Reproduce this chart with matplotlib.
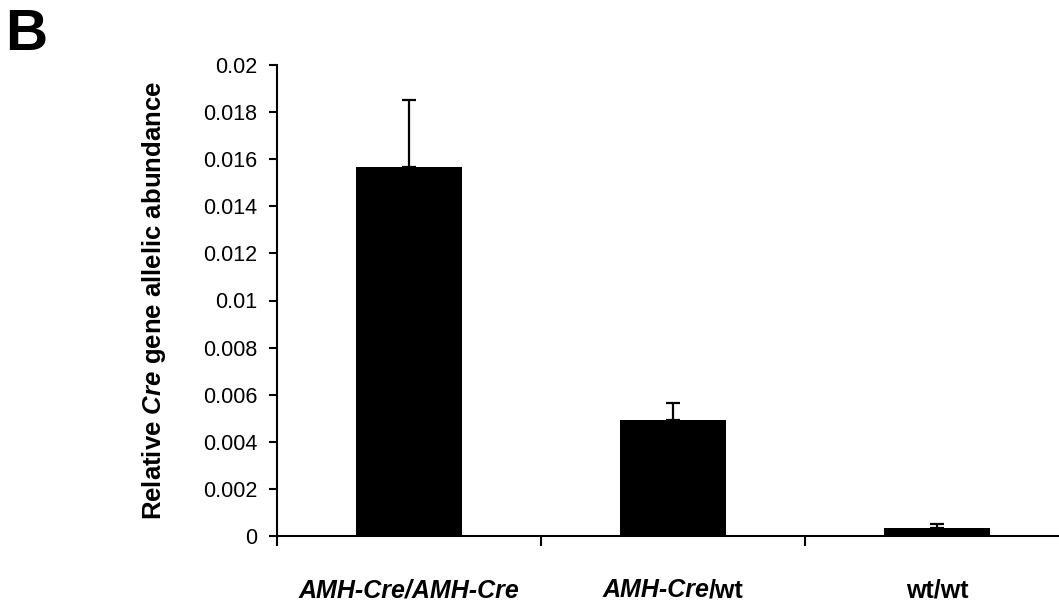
import matplotlib
matplotlib.use("Agg")
import matplotlib.pyplot as plt

plt.rcParams['font.family'] = ['Liberation Sans', 'DejaVu Sans']
plt.rcParams['mathtext.fontset'] = 'custom'
plt.rcParams['mathtext.rm'] = 'Liberation Sans:bold'
plt.rcParams['mathtext.bf'] = 'Liberation Sans:bold'
plt.rcParams['mathtext.it'] = 'Liberation Sans:bold:italic'
plt.rcParams['mathtext.bfit'] = 'Liberation Sans:bold:italic'

categories = ["AMH-Cre/AMH-Cre", "AMH-Cre/wt", "wt/wt"]
values = [0.01567, 0.00493, 0.00034]
errors = [0.00284, 0.00072, 0.00017]
yticks = [0, 0.002, 0.004, 0.006, 0.008, 0.01, 0.012, 0.014, 0.016, 0.018, 0.02]
ytick_labels = ["0", "0.002", "0.004", "0.006", "0.008", "0.01", "0.012",
                "0.014", "0.016", "0.018", "0.02"]
# label pieces: (text, italic)
label_parts = [
    [("AMH-Cre/AMH-Cre", True)],
    [("AMH-Cre", True), ("/wt", False)],
    [("wt/wt", False)],
]

W, H = 1059, 604
fig = plt.figure(figsize=(W / 100, H / 100), dpi=100)
ax = fig.add_axes([277 / W, 68 / H, (1069 - 277) / W, 471 / H])

x = list(range(len(categories)))
ax.bar(x, values, width=0.4, color='black', zorder=2)
ax.errorbar(x, values, yerr=[[0] * len(errors), errors], fmt='none',
            ecolor='black', elinewidth=1.6, capsize=5, capthick=1.6, zorder=1)

ax.set_xlim(-0.5, 2.5)
ax.set_ylim(0, 0.02)
ax.set_yticks(yticks)
ax.set_yticklabels(ytick_labels, fontsize=15.5)
ax.set_xticks([-0.5, 0.5, 1.5, 2.5])
ax.set_xticklabels([])
ax.tick_params(axis='y', direction='out', length=6, width=1.5, pad=8)
ax.tick_params(axis='x', direction='out', length=7, width=1.5)
for s in ['top', 'right']:
    ax.spines[s].set_visible(False)
for s in ['left', 'bottom']:
    ax.spines[s].set_linewidth(1.5)

ax.set_ylabel(r"Relative $\mathbfit{Cre}$ gene allelic abundance",
              fontsize=18.5, fontweight='bold', labelpad=25)

fig.text(5 / W, 1 - 50 / H, "B", fontsize=42, fontweight='bold', va='baseline', ha='left')

# category labels with mixed italic / upright parts on a common baseline
fig.canvas.draw()
renderer = fig.canvas.get_renderer()
baseline_px = 7  # pixels from bottom of figure
for xi, parts in zip(x, label_parts):
    cx = ax.transData.transform((xi, 0))[0]
    texts = []
    for t, it in parts:
        txt = fig.text(0, baseline_px / H, t, fontsize=18, fontweight='bold',
                       fontstyle='italic' if it else 'normal',
                       ha='left', va='baseline')
        texts.append(txt)
    widths = [tx.get_window_extent(renderer).width for tx in texts]
    start = cx - sum(widths) / 2
    for tx, w in zip(texts, widths):
        tx.set_x(start / W)
        start += w

fig.savefig("out.png", dpi=100)
